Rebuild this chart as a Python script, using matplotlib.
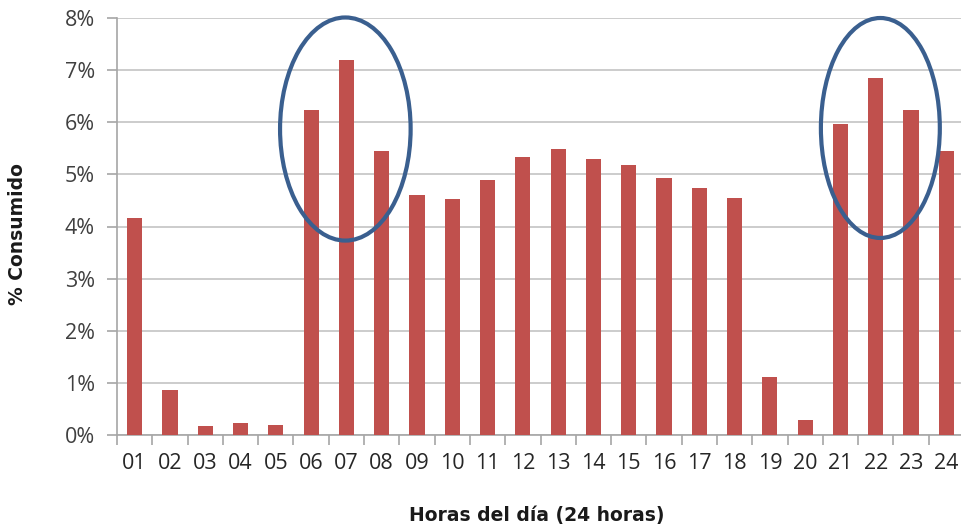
import numpy as np
import matplotlib.pyplot as plt
from matplotlib.patches import Ellipse
from matplotlib.ticker import FuncFormatter

horas = ["01", "02", "03", "04", "05", "06", "07", "08", "09", "10", "11", "12",
         "13", "14", "15", "16", "17", "18", "19", "20", "21", "22", "23", "24"]
consumo = [4.16, 0.86, 0.17, 0.23, 0.19, 6.24, 7.20, 5.45, 4.60, 4.53, 4.90, 5.33,
           5.49, 5.30, 5.18, 4.93, 4.74, 4.55, 1.11, 0.29, 5.97, 6.85, 6.24, 5.45]

# picos marcados con elipse: (centro x, centro y, ancho, alto)
picos = [(5.97, 5.87, 3.7, 4.28), (21.13, 5.89, 3.37, 4.22)]

fig = plt.figure(figsize=(9.61, 5.27), dpi=100)
ax = fig.add_axes([117 / 961, 92 / 527, 847 / 961, 417 / 527])

x = np.arange(len(horas))
ax.bar(x, consumo, width=0.43, color="#C0504D", zorder=3)

for cx, cy, w, h in picos:
    ax.add_patch(Ellipse((cx, cy), w, h, fill=False, edgecolor="#3A5F8F",
                         linewidth=3, zorder=4, clip_on=False))

ax.set_xlim(-0.5, 23.5)
ax.set_ylim(0, 8)
ax.set_yticks(np.arange(0, 9, 1))
ax.yaxis.set_major_formatter(FuncFormatter(lambda v, p: f"{int(v)}%"))
ax.set_xticks(x)
ax.set_xticklabels(horas)
ax.set_xticks(np.arange(-0.5, 24, 1), minor=True)

ax.grid(axis="y", color="#C4C4C4", linewidth=1.2, zorder=0)
for s in ["top", "right"]:
    ax.spines[s].set_visible(False)
for s in ["left", "bottom"]:
    ax.spines[s].set_color("#A6A6A6")
    ax.spines[s].set_linewidth(1.2)

ax.tick_params(axis="x", which="major", length=0, pad=13, labelsize=15.5,
               labelcolor="#262626")
ax.tick_params(axis="x", which="minor", length=7, color="#A6A6A6", width=1.2)
ax.tick_params(axis="y", length=7, color="#A6A6A6", width=1.2, pad=9,
               labelsize=15.5, labelcolor="#404040")
for lab in ax.get_xticklabels() + ax.get_yticklabels():
    lab.set_family("Open Sans")

fig.text(18 / 961, 1 - 234 / 527, "% Consumido", rotation=90, ha="center",
         va="center", fontsize=13.5, fontweight="bold", family="DejaVu Sans",
         color="#1a1a1a")
fig.text(537 / 961, 1 - 515 / 527, "Horas del día (24 horas)", ha="center",
         va="center", fontsize=13.5, fontweight="bold", family="DejaVu Sans",
         color="#1a1a1a")

fig.savefig("out.png", dpi=100)
